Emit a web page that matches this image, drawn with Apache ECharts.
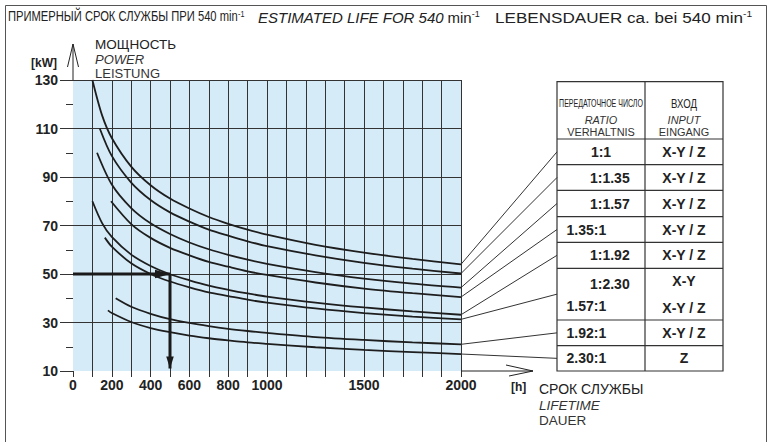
<!DOCTYPE html>
<html><head><meta charset="utf-8">
<script src="https://cdn.jsdelivr.net/npm/echarts@6/dist/echarts.min.js"></script>
<style>html,body{margin:0;padding:0;background:#fff}#c{width:769px;height:442px}</style>
</head><body><div id="c"></div>
<script>
// ---- data ----
const xTickLabels = [0, 200, 400, 600, 800, 1000, 1500, 2000];
const curveNames = ['1:1', '1:1.35', '1:1.57', '1.35:1', '1:1.92', '1:2.30 / 1.57:1', '1.92:1', '2.30:1'];
const curve_1_1   = [[100,130],[150,115.4],[200,106.1],[300,94.3],[400,86.6],[500,81.1],[600,77],[700,73.5],[800,70.7],[900,68.3],[1000,66.2],[1250,62],[1500,58.8],[1750,56.2],[2000,54]];
const curve_1_135 = [[138,110],[200,98.7],[300,87.7],[400,80.5],[500,75.4],[600,71.6],[700,68.3],[800,65.8],[900,63.5],[1000,61.5],[1250,57.7],[1500,54.6],[1750,52.2],[2000,50.2]];
const curve_1_157 = [[124,100],[200,86.9],[300,77.2],[400,70.9],[500,66.5],[600,63],[700,60.2],[800,57.9],[900,55.9],[1000,54.2],[1250,50.8],[1500,48.1],[1750,46],[2000,44.4]];
const curve_135_1 = [[196,80],[300,70.6],[400,64.9],[500,60.8],[600,57.7],[700,55],[800,53],[900,51.1],[1000,49.6],[1250,46.5],[1500,44],[1750,42.1],[2000,40.5]];
const curve_1_192 = [[100,80],[150,71],[200,65.3],[300,58],[400,53.3],[500,49.9],[600,47.4],[700,45.2],[800,43.5],[900,42],[1000,40.7],[1250,38.2],[1500,36.2],[1750,34.6],[2000,33.2]];
const curve_1_230 = [[164,65],[200,61.3],[300,54.4],[400,50],[500,46.9],[600,44.5],[700,42.4],[800,40.9],[900,39.4],[1000,38.2],[1250,35.8],[1500,33.9],[1750,32.4],[2000,31.3]];
const curve_192_1 = [[220,40],[300,36.5],[400,33.6],[500,31.4],[600,29.8],[700,28.5],[800,27.4],[900,26.5],[1000,25.7],[1250,24],[1500,22.8],[1750,21.8],[2000,21]];
const curve_230_1 = [[180,35],[200,33.9],[300,30.2],[400,27.7],[500,26],[600,24.6],[700,23.5],[800,22.6],[900,21.8],[1000,21.2],[1250,19.8],[1500,18.7],[1750,17.8],[2000,17]];
const curves = [curve_1_1, curve_1_135, curve_1_157, curve_135_1, curve_1_192, curve_1_230, curve_192_1, curve_230_1];
const guideH = [[0,50],[500,50]];
const guideV = [[500,50],[500,11]];
const ratioCol = ['1:1', '1:1.35', '1:1.57', '1.35:1', '1:1.92', ['1:2.30', '1.57:1'], '1.92:1', '2.30:1'];
const inputCol = ['X-Y / Z', 'X-Y / Z', 'X-Y / Z', 'X-Y / Z', 'X-Y / Z', ['X-Y', 'X-Y / Z'], 'X-Y / Z', 'Z'];

// ---- layout ----
const FONT = "'Liberation Sans', Arial, Helvetica, sans-serif";
const INK = '#222';
const chart = echarts.init(document.getElementById('c'), null, {renderer: 'svg'});

chart.setOption({
  animation: false,
  grid: {left: 73, top: 80, width: 388, height: 291, show: true, backgroundColor: '#d5ebf8', borderWidth: 0},
  xAxis: {
    type: 'value', min: 0, max: 2000, interval: 100,
    axisLine: {show: false},
    axisTick: {show: true, length: 6, lineStyle: {color: '#333', width: 1}},
    axisLabel: {margin: 7, color: INK, fontSize: 14, fontFamily: FONT, fontWeight: 'bold',
      showMinLabel: true, showMaxLabel: true, hideOverlap: false,
      formatter: v => xTickLabels.includes(v) ? String(v) : ''},
    splitLine: {show: true, showMinLine: false, showMaxLine: true, lineStyle: {color: '#333', width: 1}}
  },
  yAxis: {
    type: 'value', min: 10, max: 130, interval: 20,
    axisLine: {show: false},
    axisTick: {show: true, length: 13, lineStyle: {color: '#333', width: 1}},
    minorTick: {show: true, splitNumber: 2, length: 7, lineStyle: {color: '#333', width: 1}},
    minorSplitLine: {show: false},
    axisLabel: {margin: 15, color: INK, fontSize: 14, fontFamily: FONT, fontWeight: 'bold'},
    splitLine: {show: true, showMinLine: false, showMaxLine: true, lineStyle: {color: '#333', width: 1}}
  },
  series: curves.map((d, i) => ({
    name: curveNames[i], type: 'line', data: d, smooth: 0.3,
    symbol: 'none', lineStyle: {color: '#1e1e1e', width: 1.8}, z: 3
  })).concat([
    {name: 'guideH', type: 'line', data: guideH, symbol: 'none', lineStyle: {color: '#1a1a1a', width: 3}, z: 4},
    {name: 'guideV', type: 'line', data: guideV, symbol: 'none', lineStyle: {color: '#1a1a1a', width: 3}, z: 4}
  ])
});

const P = pt => chart.convertToPixel({gridIndex: 0}, pt);
const g = [];
const txt = (x, y, text, o = {}) => g.push({
  type: 'text', x, y, scaleX: o.sx || 1, z: 10,
  style: {x: 0, y: 0, text, fill: o.fill || INK, fontSize: o.size || 14, fontFamily: FONT,
    fontStyle: o.italic ? 'italic' : 'normal', fontWeight: o.bold ? 'bold' : 'normal',
    align: o.align || 'left', textAlign: o.align || 'left',
    verticalAlign: o.va || 'middle', textVerticalAlign: o.va || 'middle', rich: o.rich}
});
const line = (pts, w = 1, c = '#333') => g.push({type: 'polyline', z: 9, shape: {points: pts}, style: {stroke: c, lineWidth: w, fill: null}});
const poly = (pts, c = '#1a1a1a') => g.push({type: 'polygon', z: 9, shape: {points: pts}, style: {fill: c, stroke: null}});
const rs = (size, extra) => Object.assign({fontSize: size, fontFamily: FONT, fill: INK, color: INK}, extra || {});

// frame
line([[5.5, 460], [5.5, 5.5], [766.5, 5.5], [766.5, 460]], 1, '#555');

// title
txt(8, 17, '{a|ПРИМЕРНЫЙ СРОК СЛУЖБЫ ПРИ 540 min}{s|-1}', {sx: 0.8,
  rich: {a: rs(14), s: rs(9, {verticalAlign: 'top'})}});
txt(258, 17, '{a|ESTIMATED LIFE FOR 540} {m|min}{s|-1}', {
  rich: {a: rs(15, {fontStyle: 'italic'}), m: rs(15), s: rs(9, {verticalAlign: 'top'})}});
txt(495, 17, '{a|LEBENSDAUER ca. bei 540 min}{s|-1}', {sx: 1.14,
  rich: {a: rs(15), s: rs(9, {verticalAlign: 'top'})}});

// y axis name + arrow
txt(95, 44.5, 'МОЩНОСТЬ', {size: 13.5});
txt(95, 59, 'POWER', {size: 13, italic: true, fill: '#333'});
txt(95, 73.5, 'LEISTUNG', {size: 13, fill: '#333'});
txt(31, 63, '[kW]', {size: 12, bold: true});
const yTop = P([0, 130]);
line([[yTop[0], yTop[1]], [yTop[0], 44]], 1, '#222');
line([[yTop[0] - 5.5, 67], [yTop[0], 44], [yTop[0] + 5.5, 67]], 1, '#222');

// x axis extension + name
const xEnd = P([2000, 10]);
line([[xEnd[0], xEnd[1]], [533, xEnd[1]]], 1, '#222');
line([[506, xEnd[1] - 6], [533, xEnd[1]], [509, xEnd[1] + 5]], 1, '#222');
txt(511, 387, '[h]', {size: 12, bold: true});
txt(539, 388.5, 'СРОК СЛУЖБЫ', {size: 14});
txt(539, 405.5, 'LIFETIME', {size: 13.5, italic: true, fill: '#333'});
txt(539, 420.5, 'DAUER', {size: 13.5, fill: '#333'});

// guide arrowheads
const hTip = P(guideH[1]);
poly([[hTip[0], hTip[1]], [hTip[0] - 15, hTip[1] - 4.2], [hTip[0] - 15, hTip[1] + 4.2]]);
const vTip = P(guideV[1]);
poly([[vTip[0], vTip[1]], [vTip[0] - 3.8, vTip[1] - 12], [vTip[0] + 3.8, vTip[1] - 12]]);

// table
const TX0 = 557, TX1 = 723, TXM = 645;
const rowsY = [81.7, 139, 164.7, 190.3, 216.7, 242.3, 268.3, 320, 345.7, 371];
g.push({type: 'rect', z: 8, shape: {x: TX0, y: rowsY[0], width: TX1 - TX0, height: rowsY[rowsY.length - 1] - rowsY[0]},
  style: {fill: '#fff', stroke: '#333', lineWidth: 1.2}});
rowsY.slice(1, -1).forEach(y => line([[TX0, y], [TX1, y]], 1.2, '#333'));
line([[TXM, rowsY[0]], [TXM, rowsY[rowsY.length - 1]]], 1.2, '#333');
const c1x = (TX0 + TXM) / 2, c2x = (TXM + TX1) / 2;
txt(c1x, 103.5, 'ПЕРЕДАТОЧНОЕ ЧИСЛО', {size: 11, sx: 0.64, align: 'center'});
txt(c2x, 103.5, 'ВХОД', {size: 12, sx: 0.8, align: 'center'});
txt(c1x, 120, 'RATIO', {size: 11.5, italic: true, sx: 0.95, align: 'center', fill: '#333'});
txt(c1x, 132, 'VERHALTNIS', {size: 11.5, sx: 0.95, align: 'center', fill: '#333'});
txt(c2x, 120, 'INPUT', {size: 11.5, italic: true, sx: 0.95, align: 'center', fill: '#333'});
txt(c2x, 132, 'EINGANG', {size: 11.5, sx: 0.95, align: 'center', fill: '#333'});
const ratioText = (y, s) => {
  if (s === '1:1') txt(c1x, y, s, {bold: true, align: 'center'});
  else if (s.startsWith('1:')) txt(590, y, s, {bold: true});
  else txt(566.5, y, s, {bold: true});
};
ratioCol.forEach((r, i) => {
  const top = rowsY[i + 1], bot = rowsY[i + 2], mid = (top + bot) / 2;
  if (Array.isArray(r)) {
    ratioText(top + 16, r[0]); ratioText(bot - 14, r[1]);
    txt(c2x, top + 13, inputCol[i][0], {bold: true, align: 'center'});
    txt(c2x, bot - 12.5, inputCol[i][1], {bold: true, align: 'center'});
  } else {
    ratioText(mid, r);
    txt(c2x, mid, inputCol[i], {bold: true, align: 'center'});
  }
  // leader line from curve end to the row
  const d = curves[i], e = P(d[d.length - 1]);
  line([[e[0], e[1]], [TX0, mid]], 1, '#333');
});

chart.setOption({graphic: {elements: g}});
</script>
</body></html>
